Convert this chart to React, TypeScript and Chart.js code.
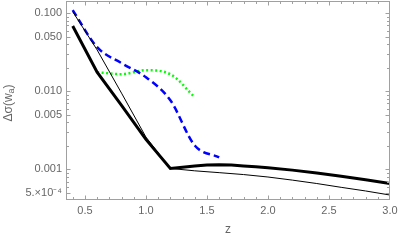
import React, { useEffect, useRef } from "react";
import { Chart, registerables } from "chart.js";

Chart.register(...registerables);

// ---- data ----
const zThick = [0.4, 0.6, 0.8, 1.0, 1.2, 1.3, 1.4, 1.5, 1.6, 1.7, 1.8, 1.9, 2.0, 2.2, 2.4, 2.6, 2.8, 3.0];
const thickVals = [0.0687, 0.0176, 0.00664, 0.00243, 0.00103, 0.00107, 0.00111, 0.00114, 0.00115, 0.00114, 0.00111, 0.00108, 0.00105, 0.00098, 0.0009, 0.00082, 0.00074, 0.00066];

const zThin = [0.4, 0.6, 0.8, 1.0, 1.2, 1.4, 1.6, 1.8, 2.0, 2.2, 2.4, 2.6, 2.8, 3.0];
const thinVals = [0.105, 0.034, 0.0095, 0.0026, 0.00103, 0.00096, 0.00091, 0.00086, 0.0008, 0.00073, 0.00066, 0.00059, 0.00053, 0.00047];

const zBlue = [0.4, 0.6, 0.8, 1.0, 1.2, 1.4, 1.6];
const blueVals = [0.11, 0.0369, 0.023, 0.0152, 0.0077, 0.00203, 0.00143];

const zGreen = [0.6, 0.8, 1.0, 1.2, 1.4];
const greenVals = [0.0176, 0.0166, 0.0187, 0.0166, 0.0084];

const xTickValues = [0.5, 1.0, 1.5, 2.0, 2.5, 3.0];
const xTickLabels = ["0.5", "1.0", "1.5", "2.0", "2.5", "3.0"];
const yTickValues = [0.1, 0.05, 0.01, 0.005, 0.001, 0.0005];
const yTickLabels = ["0.100", "0.050", "0.010", "0.005", "0.001", "5.\u00d710\u207b\u2074"];

const xMin = 0.345;
const xMax = 3.0;
const yMin = 4.06e-4;
const yMax = 0.1439;

const xLabel = "z";
const yLabelMain = "\u0394\u03c3(w";
const yLabelSub = "a";
const yLabelEnd = ")";

const TEXT = "#666666";
const FRAME = "#a0a0a0";
const FONT = "'Liberation Sans', Arial, sans-serif";

const pts = (xs: number[], ys: number[]) => xs.map((x, i) => ({ x, y: ys[i] }));

const framePlugin = {
  id: "mmaFrame",
  afterDraw(chart: any) {
    const { ctx, chartArea: a, scales } = chart;
    const xs = scales.x;
    const ys = scales.y;
    const L = Math.round(a.left) + 0.5;
    const R = Math.round(a.right) - 0.5;
    const T = Math.round(a.top) + 0.5;
    const B = Math.round(a.bottom) - 0.5;
    ctx.save();
    ctx.strokeStyle = FRAME;
    ctx.lineWidth = 1;
    ctx.strokeRect(L, T, R - L, B - T);
    ctx.beginPath();
    for (let i = 4; i <= 30; i++) {
      const v = i / 10;
      const major = i % 5 === 0;
      const len = major ? 4 : 2.5;
      const px = Math.round(xs.getPixelForValue(v)) + 0.5;
      if (px < L || px > R + 0.6) continue;
      ctx.moveTo(px, B);
      ctx.lineTo(px, B - len);
      ctx.moveTo(px, T);
      ctx.lineTo(px, T + len);
    }
    const decades = [1e-4, 1e-3, 1e-2, 1e-1];
    for (const d of decades) {
      for (let k = 1; k <= 9; k++) {
        const v = k * d;
        if (v < yMin || v > yMax) continue;
        const major = k === 1 || k === 5;
        const len = major ? 4 : 2.5;
        const py = Math.round(ys.getPixelForValue(v)) + 0.5;
        ctx.moveTo(L, py);
        ctx.lineTo(L + len, py);
        ctx.moveTo(R, py);
        ctx.lineTo(R - len, py);
      }
    }
    ctx.stroke();

    ctx.fillStyle = TEXT;
    ctx.font = `12px ${FONT}`;
    ctx.textAlign = "center";
    ctx.textBaseline = "middle";
    ctx.fillText(xLabel, (a.left + a.right) / 2, 230);

    ctx.translate(9, 103);
    ctx.rotate(-Math.PI / 2);
    ctx.font = `12px ${FONT}`;
    const w1 = ctx.measureText(yLabelMain).width;
    ctx.font = `9px ${FONT}`;
    const w2 = ctx.measureText(yLabelSub).width;
    ctx.font = `12px ${FONT}`;
    const w3 = ctx.measureText(yLabelEnd).width;
    let x0 = -(w1 + w2 + w3) / 2;
    ctx.textAlign = "left";
    ctx.fillText(yLabelMain, x0, 0);
    x0 += w1;
    ctx.font = `9px ${FONT}`;
    ctx.fillText(yLabelSub, x0, 3);
    x0 += w2;
    ctx.font = `12px ${FONT}`;
    ctx.fillText(yLabelEnd, x0, 0);
    ctx.restore();
  },
};

export default function App() {
  const ref = useRef<HTMLCanvasElement | null>(null);
  useEffect(() => {
    if (!ref.current) return;
    const chart = new Chart(ref.current, {
      type: "line",
      data: {
        datasets: [
          {
            data: pts(zThin, thinVals),
            borderColor: "#000000",
            borderWidth: 1,
            pointRadius: 0,
            tension: 0,
            fill: false,
          },
          {
            data: pts(zThick, thickVals),
            borderColor: "#000000",
            borderWidth: 3,
            pointRadius: 0,
            tension: 0,
            fill: false,
          },
          {
            data: pts(zBlue, blueVals),
            borderColor: "#0000ff",
            borderWidth: 2.5,
            borderDash: [7, 4],
            pointRadius: 0,
            cubicInterpolationMode: "monotone",
            fill: false,
          },
          {
            data: pts(zGreen, greenVals),
            borderColor: "#00ff00",
            borderWidth: 2.5,
            borderDash: [2, 2.5],
            pointRadius: 0,
            cubicInterpolationMode: "monotone",
            fill: false,
          },
        ],
      },
      options: {
        responsive: false,
        animation: false,
        devicePixelRatio: 1,
        layout: { padding: { top: 1, right: 9, left: 0, bottom: 0 } },
        plugins: { legend: { display: false }, tooltip: { enabled: false } },
        scales: {
          x: {
            type: "linear",
            bounds: "data",
            min: xMin,
            max: xMax,
            grid: { display: false, drawTicks: false },
            border: { display: false },
            afterBuildTicks: (s: any) => {
              s.ticks = xTickValues.map((v) => ({ value: v }));
            },
            afterFit: (s: any) => {
              s.height = 40;
              s.paddingLeft = 0;
              s.paddingRight = 0;
            },
            ticks: {
              autoSkip: false,
              maxRotation: 0,
              padding: 4,
              color: TEXT,
              font: { family: FONT, size: 11 },
              callback: (_v: any, i: number) => xTickLabels[i],
            },
          },
          y: {
            type: "logarithmic",
            bounds: "data",
            min: yMin,
            max: yMax,
            grid: { display: false, drawTicks: false },
            border: { display: false },
            afterBuildTicks: (s: any) => {
              s.ticks = yTickValues.map((v) => ({ value: v }));
            },
            afterFit: (s: any) => {
              s.width = 66;
              s.paddingTop = 0;
              s.paddingBottom = 0;
            },
            ticks: {
              autoSkip: false,
              padding: 4,
              color: TEXT,
              font: { family: FONT, size: 11 },
              callback: (_v: any, i: number) => yTickLabels[i],
            },
          },
        },
      },
      plugins: [framePlugin],
    } as any);
    return () => chart.destroy();
  }, []);
  return (
    <div style={{ position: "absolute", left: 0, top: 0, width: 399, height: 240 }}>
      <canvas ref={ref} width={399} height={240} style={{ width: 399, height: 240 }} />
    </div>
  );
}
